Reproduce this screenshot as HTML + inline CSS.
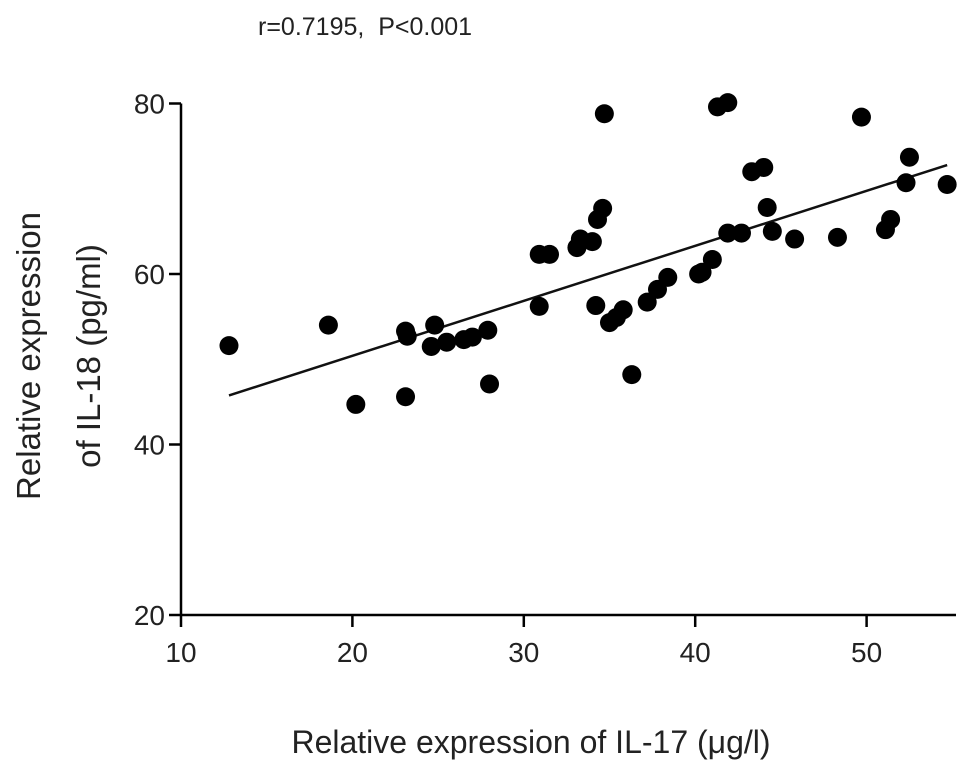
<!DOCTYPE html>
<html><head><meta charset="utf-8"><style>
body{margin:0;background:#fff}
svg{display:block;font-family:"Liberation Sans",Arial,sans-serif}
</style></head><body>
<svg id="chart" width="969" height="770">
<text x="258" y="35" font-size="25" fill="#222" style="white-space:pre">r=0.7195,  P&lt;0.001</text>
<g id="axes"></g>
<g id="marks"></g>
<text x="531" y="753" font-size="32" text-anchor="middle" fill="#222">Relative expression of IL-17 (μg/l)</text>
<g transform="translate(0,356) rotate(-90)">
<text x="0" y="40" font-size="33" text-anchor="middle" fill="#222">Relative expression</text>
<text x="0" y="100" font-size="33" text-anchor="middle" fill="#222">of IL-18 (pg/ml)</text>
</g>
</svg>
<script>
const xValues=[12.8,18.6,20.2,23.1,23.1,23.2,24.8,24.6,25.5,26.5,27.0,27.9,28.0,30.9,30.9,31.5,33.1,33.3,34.0,34.3,34.6,34.7,34.2,35.0,35.4,35.8,36.3,37.2,37.8,38.4,40.2,40.4,41.0,41.3,41.9,41.9,42.7,43.3,44.0,44.2,44.5,45.8,48.3,49.7,51.1,51.4,52.3,52.5,54.7];
const yValues=[51.6,54.0,44.7,45.6,53.3,52.7,54.0,51.5,52.0,52.3,52.6,53.4,47.1,56.2,62.3,62.3,63.1,64.1,63.8,66.4,67.7,78.8,56.3,54.3,54.9,55.8,48.2,56.7,58.2,59.6,60.0,60.2,61.7,79.6,80.1,64.8,64.8,72.0,72.5,67.8,65.0,64.1,64.3,78.4,65.2,66.4,70.7,73.7,70.5];
const xTicks=[10,20,30,40,50];
const yTicks=[20,40,60,80];
const fitSlope=[0.645];
const fitIntercept=[37.5];
const fitRange=[12.8,54.7];

const X=v=>181+(v-10)*17.14;
const Y=v=>615-(v-20)*8.525;
const NS='http://www.w3.org/2000/svg';
const axes=document.getElementById('axes'),marks=document.getElementById('marks');
function mk(tag,attrs,parent){const e=document.createElementNS(NS,tag);for(const k in attrs)e.setAttribute(k,attrs[k]);parent.appendChild(e);return e;}
let a=mk('line',{x1:181,y1:Y(80),x2:181,y2:615,stroke:'#000','stroke-width':2.5},axes);


a=mk('line',{x1:181,y1:615,x2:956,y2:615,stroke:'#000','stroke-width':2.5},axes);


yTicks.forEach(t=>{
 const l=mk('line',{x1:169,y1:Y(t),x2:181,y2:Y(t),stroke:'#000','stroke-width':2.5},axes);
 
 
 const tx=mk('text',{x:165,y:Y(t)+10,'font-size':28,'text-anchor':'end',fill:'#222'},axes);
 tx.textContent=t;
 
 
});
xTicks.forEach(t=>{
 const l=mk('line',{x1:X(t),y1:615,x2:X(t),y2:627,stroke:'#000','stroke-width':2.5},axes);
 
 
 const tx=mk('text',{x:X(t),y:662,'font-size':28,'text-anchor':'middle',fill:'#222'},axes);
 tx.textContent=t;
 
 
});
const fl=mk('line',{x1:X(fitRange[0]),y1:Y(fitSlope[0]*fitRange[0]+fitIntercept[0]),x2:X(fitRange[1]),y2:Y(fitSlope[0]*fitRange[1]+fitIntercept[0]),stroke:'#111','stroke-width':2.5},marks);


xValues.forEach((v,i)=>{
 const c=mk('circle',{cx:X(v),cy:Y(yValues[i]),r:9.5,fill:'#000'},marks);
 
 
});
</script>
</body></html>
